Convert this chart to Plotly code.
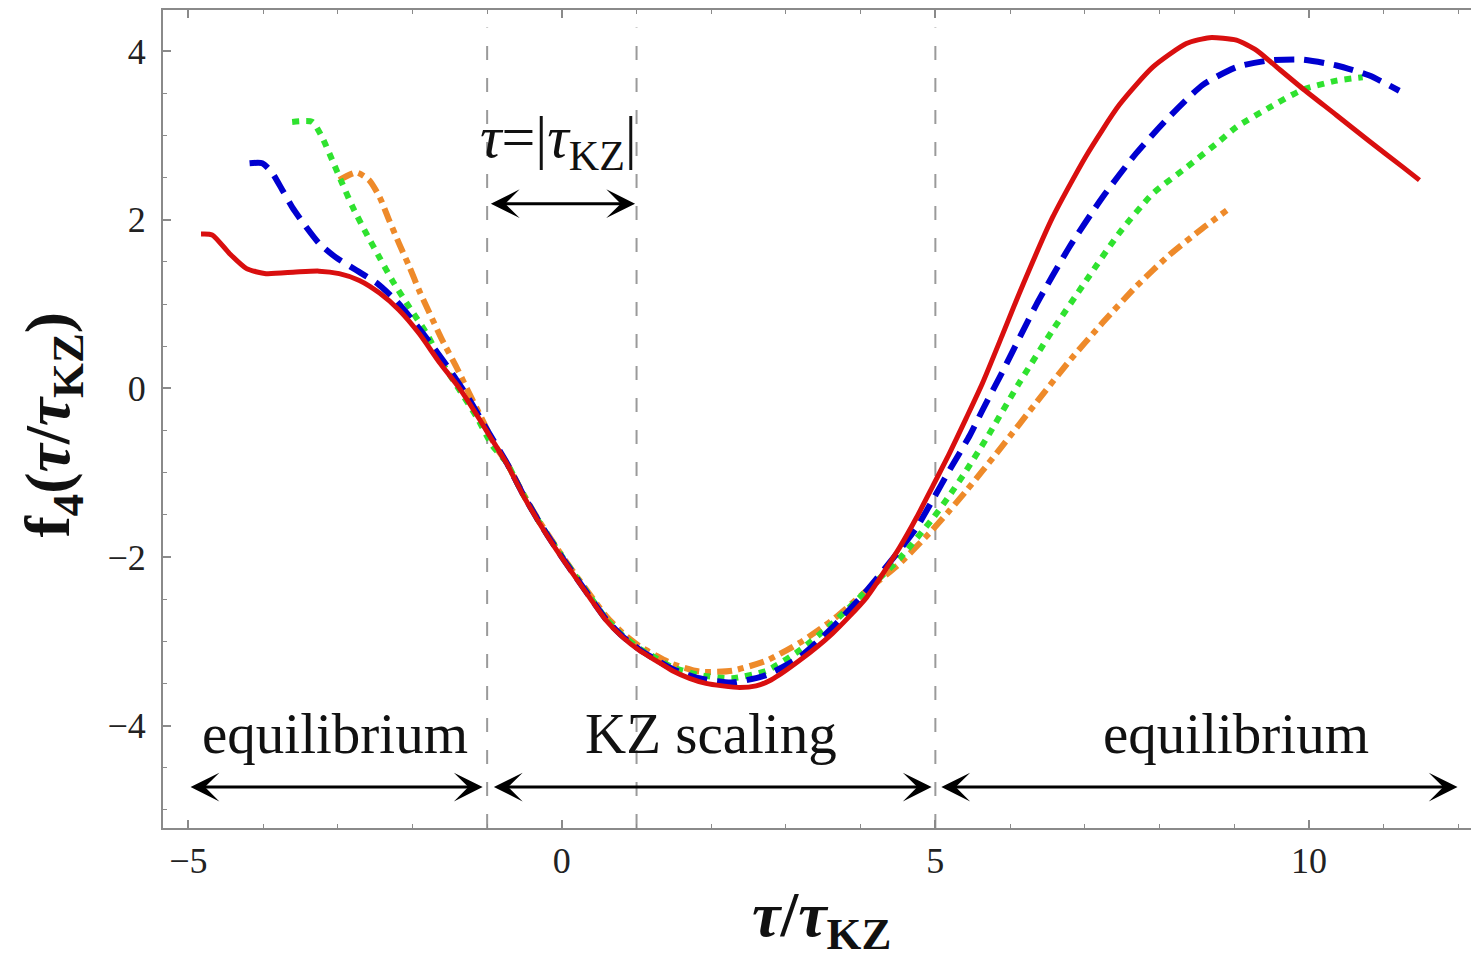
import plotly.graph_objects as go

# ---------------- data ----------------
red_x = [-4.83, -4.68, -4.45, -4.22, -3.96, -3.56, -3.25, -2.98, -2.71, -2.44, -2.18, -1.91, -1.64, -1.37,
         -1.10, -0.97, -0.74, -0.53, -0.30, -0.07, 0.14, 0.37, 0.59, 0.81, 1.04, 1.26, 1.48, 1.71, 1.93,
         2.15, 2.38, 2.60, 2.80, 3.18, 3.62, 4.08, 4.52, 4.75, 4.96, 5.19, 5.41, 5.63, 5.90, 6.12, 6.57,
         7.02, 7.46, 7.91, 8.36, 8.67, 9.03, 9.30, 9.57, 9.91, 10.37, 10.81, 11.25, 11.48]
red_y = [1.83, 1.82, 1.60, 1.42, 1.36, 1.38, 1.39, 1.36, 1.28, 1.13, 0.93, 0.65, 0.31, 0.00,
         -0.37, -0.56, -0.89, -1.25, -1.60, -1.92, -2.19, -2.48, -2.75, -2.95, -3.11, -3.23, -3.35, -3.44, -3.50,
         -3.53, -3.55, -3.53, -3.46, -3.23, -2.91, -2.48, -1.89, -1.53, -1.17, -0.77, -0.36, 0.06, 0.64, 1.12, 2.03,
         2.76, 3.36, 3.81, 4.09, 4.16, 4.13, 4.01, 3.81, 3.56, 3.24, 2.93, 2.63, 2.47]

blue_x = [-4.18, -4.01, -3.88, -3.74, -3.61, -3.42, -3.25, -3.02, -2.75, -2.48, -2.22, -2.00, -1.73, -1.47,
          -1.24, -1.01, -0.74, -0.53, -0.30, -0.07, 0.14, 0.37, 0.59, 0.81, 1.04, 1.26, 1.48, 1.84, 2.28,
          2.74, 3.18, 3.62, 4.08, 4.52, 4.75, 4.96, 5.19, 5.46, 5.63, 5.90, 6.35, 6.79, 7.24, 7.69, 8.13,
          8.58, 9.03, 9.47, 9.91, 10.37, 10.81, 11.21]
blue_y = [2.67, 2.67, 2.56, 2.35, 2.15, 1.91, 1.72, 1.55, 1.40, 1.25, 1.04, 0.81, 0.50, 0.18,
          -0.13, -0.48, -0.88, -1.24, -1.59, -1.91, -2.18, -2.47, -2.74, -2.94, -3.10, -3.22, -3.33, -3.44, -3.49,
          -3.40, -3.19, -2.84, -2.40, -1.92, -1.65, -1.33, -0.97, -0.56, -0.26, 0.20, 0.99, 1.67, 2.27, 2.79, 3.22,
          3.60, 3.81, 3.89, 3.90, 3.83, 3.71, 3.53]

green_x = [-3.61, -3.34, -3.21, -3.07, -2.94, -2.80, -2.62, -2.44, -2.27, -2.04, -1.81, -1.60, -1.37, -1.14,
           -0.93, -0.74, -0.53, -0.30, -0.07, 0.14, 0.37, 0.59, 0.81, 1.04, 1.26, 1.48, 1.84, 2.28, 2.74,
           3.18, 3.62, 4.08, 4.52, 4.96, 5.19, 5.41, 5.68, 6.12, 6.57, 7.02, 7.46, 7.91, 8.36, 8.80, 9.03,
           9.47, 9.91, 10.37, 10.72]
green_y = [3.16, 3.16, 2.98, 2.70, 2.43, 2.15, 1.84, 1.55, 1.28, 0.96, 0.65, 0.30, -0.02, -0.34,
           -0.68, -0.88, -1.24, -1.59, -1.90, -2.17, -2.46, -2.73, -2.93, -3.09, -3.20, -3.31, -3.40, -3.44, -3.35,
           -3.11, -2.79, -2.40, -2.02, -1.55, -1.27, -0.98, -0.60, 0.06, 0.69, 1.28, 1.84, 2.31, 2.62, 2.93, 3.10,
           3.33, 3.54, 3.65, 3.69]

orange_x = [-2.98, -2.75, -2.58, -2.44, -2.31, -2.18, -2.04, -1.91, -1.77, -1.60, -1.41, -1.24, -1.06, -0.88,
            -0.74, -0.53, -0.30, -0.07, 0.14, 0.37, 0.59, 0.81, 1.04, 1.26, 1.48, 1.84, 2.28, 2.74, 3.18,
            3.62, 4.08, 4.52, 4.96, 5.19, 5.41, 5.63, 5.90, 6.35, 6.79, 7.24, 7.69, 8.13, 8.58, 8.90]
orange_y = [2.47, 2.56, 2.47, 2.27, 1.99, 1.72, 1.44, 1.16, 0.89, 0.57, 0.25, -0.06, -0.38, -0.70,
            -0.88, -1.23, -1.58, -1.89, -2.16, -2.44, -2.70, -2.90, -3.06, -3.17, -3.27, -3.36, -3.35, -3.23, -3.02,
            -2.75, -2.40, -2.08, -1.68, -1.45, -1.22, -0.98, -0.68, -0.17, 0.32, 0.78, 1.21, 1.58, 1.90, 2.11]

# region markers / annotations
boundary_x = [-1, 1, 5]
region_labels = ["equilibrium", "KZ scaling", "equilibrium"]
region_label_x = [-3.03, 1.99, 9.02]
region_label_y = -4.09
region_arrows = [(-4.99, -1.06), (-0.93, 4.95), (5.06, 11.99)]
region_arrow_y = -4.73
kz_arrow = (-0.97, 0.98)
kz_arrow_y = 2.19
kz_label = "<i>τ</i>=|<i>τ</i><sub>KZ</sub>|"
kz_label_pos = (-0.04, 2.93)

x_range = [-5.339, 12.17]
y_range = [-5.216, 4.488]

SERIF = "Liberation Serif"

fig = go.Figure()

series = [
    (red_x, red_y, "#d90f0f", "solid", 5),
    (blue_x, blue_y, "#0000d0", "20px,10px", 6),
    (green_x, green_y, "#2fe22f", "7px,7px", 6),
    (orange_x, orange_y, "#ee8a2a", "15px,6px,6px,6px", 6),
]
for xs, ys, col, dash, w in reversed(series):
    fig.add_trace(go.Scatter(x=xs, y=ys, mode="lines",
                             line=dict(color=col, dash=dash, width=w, shape="spline", smoothing=0.6),
                             showlegend=False, hoverinfo="skip"))

# vertical dashed boundary lines
for bx in boundary_x:
    fig.add_shape(type="line", xref="x", yref="y", x0=bx, x1=bx, y0=y_range[0], y1=4.28,
                  line=dict(color="#9a9a9a", width=2, dash="14px,18px"), layer="below")

# region labels
for lbl, lx in zip(region_labels, region_label_x):
    fig.add_annotation(x=lx, y=region_label_y, xref="x", yref="y", text=lbl, showarrow=False,
                       font=dict(family=SERIF, size=57, color="#111"), xanchor="center", yanchor="middle")

# double arrows
for a0, a1 in region_arrows:
    fig.add_annotation(x=a1, y=region_arrow_y, ax=a0, ay=region_arrow_y, xref="x", yref="y",
                       axref="x", ayref="y", text="", showarrow=True, arrowhead=3, arrowside="end+start",
                       arrowsize=1.6, arrowwidth=3, arrowcolor="black")
fig.add_annotation(x=kz_arrow[1], y=kz_arrow_y, ax=kz_arrow[0], ay=kz_arrow_y, xref="x", yref="y",
                   axref="x", ayref="y", text="", showarrow=True, arrowhead=3, arrowside="end+start",
                   arrowsize=1.6, arrowwidth=3, arrowcolor="black")
fig.add_annotation(x=kz_label_pos[0], y=kz_label_pos[1], xref="x", yref="y", text=kz_label, showarrow=False,
                   font=dict(family=SERIF, size=60, color="#111"), xanchor="center", yanchor="middle")

# axis titles
fig.add_annotation(x=3.47, y=-0.111, xref="x", yref="paper",
                   text="<b><i>τ</i>/<i>τ</i><sub>KZ</sub></b>", showarrow=False,
                   font=dict(family=SERIF, size=64, color="#111"), xanchor="center", yanchor="middle")
fig.add_annotation(x=-0.085, y=0.493, xref="paper", yref="paper", textangle=-90,
                   text="<b>f<sub>4</sub>(<i>τ</i>/<i>τ</i><sub>KZ</sub>)</b>", showarrow=False,
                   font=dict(family=SERIF, size=64, color="#111"), xanchor="center", yanchor="middle")

axis_common = dict(showgrid=False, zeroline=False, showline=True, linecolor="#8a8a8a", linewidth=2,
                   ticks="inside", ticklen=8, tickwidth=1.5, tickcolor="#8a8a8a",
                   tickfont=dict(family=SERIF, size=36, color="#222"))
fig.update_xaxes(range=x_range, tickmode="linear", tick0=0, dtick=5, mirror="ticks",
                 minor=dict(dtick=1, tick0=0, ticks="inside", ticklen=4, tickcolor="#8a8a8a", tickwidth=1.2),
                 ticklabelstandoff=0, **axis_common)
fig.update_yaxes(range=y_range, tickmode="linear", tick0=0, dtick=2, mirror=False,
                 minor=dict(dtick=0.5, tick0=0, ticks="inside", ticklen=4, tickcolor="#8a8a8a", tickwidth=1.2),
                 ticklabelstandoff=8, **axis_common)

fig.update_layout(width=1471, height=963, margin=dict(l=163, r=0, t=10, b=135),
                  paper_bgcolor="white", plot_bgcolor="white", showlegend=False)

fig.write_html("out.html")
